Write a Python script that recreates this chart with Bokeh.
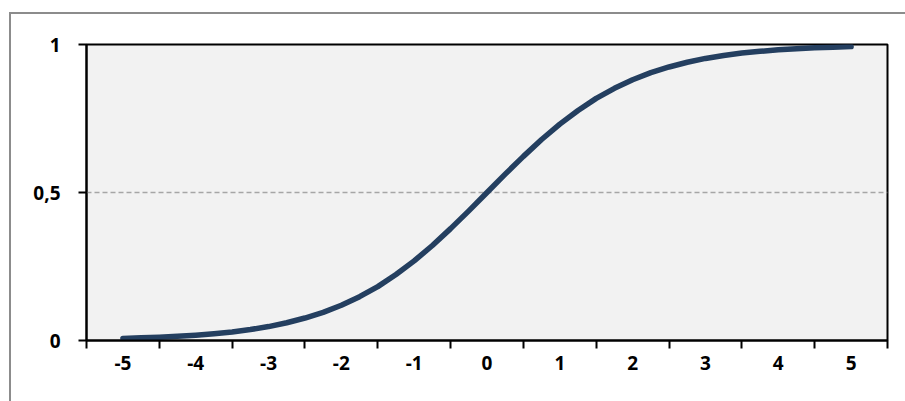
from bokeh.plotting import figure
from bokeh.models import Range1d, FixedTicker, ColumnDataSource
from bokeh.embed import file_html
from bokeh.resources import INLINE

# data
x_vals = [-5, -4.75, -4.5, -4.25, -4, -3.75, -3.5, -3.25, -3, -2.75, -2.5, -2.25,
          -2, -1.75, -1.5, -1.25, -1, -0.75, -0.5, -0.25, 0,
          0.25, 0.5, 0.75, 1, 1.25, 1.5, 1.75, 2, 2.25, 2.5, 2.75,
          3, 3.25, 3.5, 3.75, 4, 4.25, 4.5, 4.75, 5]
y_vals = [0.007, 0.009, 0.011, 0.014, 0.018, 0.023, 0.029, 0.037, 0.047, 0.060, 0.076, 0.095,
          0.119, 0.148, 0.182, 0.223, 0.269, 0.321, 0.378, 0.438, 0.5,
          0.562, 0.622, 0.679, 0.731, 0.777, 0.818, 0.852, 0.881, 0.905, 0.924, 0.940,
          0.953, 0.963, 0.971, 0.977, 0.982, 0.986, 0.989, 0.991, 0.993]
x_tick_labels = ["-5", "-4", "-3", "-2", "-1", "0", "1", "2", "3", "4", "5"]
y_ticks = [0, 0.5, 1]
y_tick_labels = ["0", "0,5", "1"]

FONT = "Open Sans"

p = figure(width=905, height=401, output_backend="svg", toolbar_location=None,
           x_range=Range1d(-5.5, 5.5), y_range=Range1d(0, 1),
           min_border_left=86, min_border_right=18, min_border_top=44, min_border_bottom=61,
           styles={"background": "linear-gradient(#8c8c8c,#8c8c8c) 9px 12px / 2px 100% no-repeat, "
                                 "linear-gradient(#8c8c8c,#8c8c8c) 9px 12px / 100% 2px no-repeat, white"})
p.border_fill_alpha = 0
p.background_fill_color = "#f2f2f2"
p.outline_line_color = "black"
p.outline_line_width = 2

xt = [i - 5 for i in range(11)]
minor = [i - 5.5 for i in range(12)]
p.xaxis.ticker = FixedTicker(ticks=xt, minor_ticks=minor)
p.xaxis.major_label_overrides = {t: l for t, l in zip(xt, x_tick_labels)}
p.xaxis.major_tick_out = 0
p.xaxis.major_tick_in = 0
p.xaxis.minor_tick_out = 8
p.xaxis.minor_tick_in = 0
p.xaxis.minor_tick_line_color = "black"
p.xaxis.minor_tick_line_width = 2
p.xaxis.major_label_standoff = 7

p.yaxis.ticker = FixedTicker(ticks=y_ticks, minor_ticks=[])
p.yaxis.major_label_overrides = {t: l for t, l in zip(y_ticks, y_tick_labels)}
p.yaxis.major_tick_out = 8
p.yaxis.major_tick_in = 0
p.yaxis.major_tick_line_width = 2
p.yaxis.major_tick_line_color = "black"
p.yaxis.major_label_standoff = 18

for ax in (p.xaxis, p.yaxis):
    ax.axis_line_color = "black"
    ax.axis_line_width = 2
    ax.major_label_text_font = FONT
    ax.major_label_text_font_style = "bold"
    ax.major_label_text_font_size = "19px"
    ax.major_label_text_color = "black"

p.xgrid.visible = False
p.ygrid.ticker = FixedTicker(ticks=[0.5])
p.ygrid.grid_line_color = "#a6a6a6"
p.ygrid.grid_line_width = 1.5
p.ygrid.grid_line_dash = "5 3"

src = ColumnDataSource(dict(x=x_vals, y=y_vals))
p.line("x", "y", source=src, line_color="#243f60", line_width=5.5, line_cap="round", line_join="round")

open("out.html", "w").write(file_html(p, INLINE))
